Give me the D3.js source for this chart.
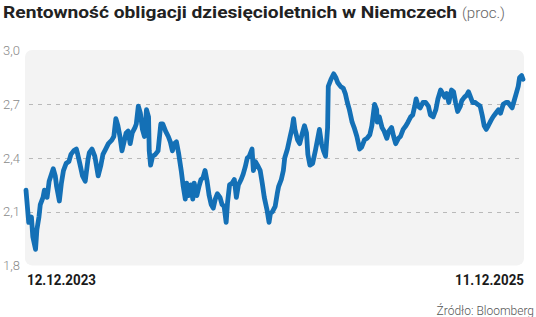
<!DOCTYPE html>
<html><head><meta charset="utf-8">
<script src="https://cdn.jsdelivr.net/npm/d3@7"></script>
<style>
html,body{margin:0;padding:0;background:#fff;}
svg{display:block;font-family:Roboto,"Noto Sans",sans-serif;}
</style></head>
<body>
<script>
// Days since 12.12.2023 and yield (%)
const days = [0,4,8,10,14,16,19,21,25,27,31,34,40,43,45,49,52,55,59,63,66,70,74,76,79,83,87,91,93,97,101,102,106,110,113,117,121,126,129,132,135,138,141,144,147,150,153,156,160,162,165,168,171,174,177,180,181,183,186,190,194,198,201,205,209,212,215,218,221,224,228,231,234,236,239,242,245,247,251,254,257,260,263,266,269,272,275,278,281,285,288,291,294,296,299,303,306,309,312,316,319,322,325,328,332,334,337,340,344,347,350,354,357,359,362,366,369,371,375,378,380,384,388,391,393,395,399,402,406,409,412,414,417,421,425,428,431,434,437,440,443,444,448,452,455,458,462,466,469,472,475,479,482,486,490,493,497,501,505,508,512,515,516,519,523,526,530,533,537,540,543,547,550,554,558,561,565,568,571,573,576,579,583,587,591,594,598,602,605,609,612,615,618,621,625,628,631,634,638,640,644,647,650,652,656,660,663,667,670,673,676,679,683,686,690,694,697,701,705,708,712,714,717,720,723,725,728,730];
const yields = [2.22,2.04,2.07,1.96,1.89,2.00,2.07,2.14,2.18,2.22,2.18,2.27,2.34,2.30,2.24,2.16,2.26,2.33,2.37,2.38,2.42,2.44,2.45,2.42,2.37,2.30,2.27,2.39,2.43,2.45,2.41,2.39,2.30,2.36,2.42,2.45,2.48,2.50,2.52,2.62,2.58,2.52,2.44,2.49,2.54,2.55,2.48,2.54,2.57,2.59,2.69,2.65,2.56,2.52,2.67,2.63,2.44,2.36,2.41,2.42,2.44,2.59,2.59,2.55,2.52,2.49,2.44,2.48,2.49,2.43,2.33,2.24,2.17,2.26,2.19,2.25,2.17,2.26,2.19,2.24,2.28,2.29,2.33,2.27,2.19,2.14,2.12,2.17,2.20,2.18,2.14,2.13,2.04,2.15,2.25,2.26,2.28,2.18,2.25,2.28,2.31,2.35,2.40,2.41,2.45,2.33,2.38,2.36,2.33,2.26,2.18,2.11,2.04,2.09,2.10,2.13,2.20,2.24,2.28,2.33,2.40,2.45,2.52,2.57,2.62,2.56,2.50,2.48,2.54,2.58,2.54,2.42,2.36,2.37,2.44,2.50,2.56,2.48,2.44,2.41,2.57,2.80,2.84,2.87,2.85,2.82,2.80,2.79,2.76,2.71,2.67,2.60,2.57,2.52,2.45,2.46,2.50,2.51,2.53,2.58,2.70,2.67,2.60,2.63,2.57,2.55,2.51,2.55,2.57,2.52,2.48,2.51,2.52,2.56,2.58,2.60,2.63,2.64,2.69,2.73,2.69,2.68,2.71,2.71,2.69,2.64,2.63,2.67,2.73,2.78,2.76,2.74,2.76,2.71,2.78,2.77,2.71,2.66,2.69,2.72,2.74,2.75,2.77,2.75,2.71,2.71,2.70,2.69,2.64,2.58,2.56,2.58,2.61,2.63,2.65,2.67,2.65,2.70,2.71,2.71,2.69,2.68,2.72,2.76,2.80,2.85,2.86,2.84];
const yTicks = [1.8, 2.1, 2.4, 2.7, 3.0];
const gridValues = [2.1, 2.4, 2.7];
const xLabels = ["12.12.2023", "11.12.2025"];
const titleText = "Rentowność obligacji dziesięcioletnich w Niemczech";
const unitText = "(proc.)";
const sourceText = "Źródło: Bloomberg";

const W = 536, H = 317;
const plot = {x0: 25, x1: 524, y0: 50.6, y1: 265.4};

const svg = d3.select("body").append("svg").attr("width", W).attr("height", H);

const x = d3.scaleLinear().domain([0, 730]).range([plot.x0 + 1, plot.x1 - 1]);
const y = d3.scaleLinear().domain([1.8, 3.0]).range([plot.y1, plot.y0]);

// plot background
svg.append("rect")
  .attr("x", plot.x0).attr("y", y(3.0) - 0.6)
  .attr("width", plot.x1 - plot.x0).attr("height", y(1.8) - y(3.0) + 0.6)
  .attr("rx", 7).attr("ry", 7)
  .attr("fill", "#f3f3f3");

// grid
svg.append("g").selectAll("line").data(gridValues).join("line")
  .attr("x1", plot.x0 + 4).attr("x2", plot.x1)
  .attr("y1", d => Math.round(y(d)) + 0.5).attr("y2", d => Math.round(y(d)) + 0.5)
  .attr("stroke", "#b9b9b9").attr("stroke-width", 1)
  .attr("stroke-dasharray", "4,5");

// y axis labels
const yAxis = d3.axisLeft(y).tickValues(yTicks).tickSize(0).tickPadding(0)
  .tickFormat(d => d3.format(".1f")(d).replace(".", ","));
const gy = svg.append("g").attr("transform", "translate(20,0)").call(yAxis);
gy.select(".domain").remove();
gy.selectAll("text").attr("font-size", 13).attr("fill", "#8a8a8a")
  .attr("font-weight", 300).attr("font-family", "Roboto, sans-serif");

// line
const line = d3.line().x((d, i) => x(days[i])).y(d => y(d));
svg.append("path").datum(yields)
  .attr("d", line)
  .attr("fill", "none").attr("stroke", "#1470b6")
  .attr("stroke-width", 4.8).attr("stroke-linejoin", "round").attr("stroke-linecap", "round");

// title: bold part stretched to the reference width
const tMain = svg.append("text").attr("x", 3).attr("y", 18)
  .attr("font-size", 17).attr("font-weight", 700).attr("fill", "#222")
  .attr("textLength", 454).attr("lengthAdjust", "spacingAndGlyphs")
  .text(titleText);
svg.append("text").attr("x", 462).attr("y", 18)
  .attr("font-size", 14).attr("font-weight", 300).attr("fill", "#666")
  .attr("textLength", 43).attr("lengthAdjust", "spacingAndGlyphs")
  .text(unitText);

// x labels
svg.append("text").attr("x", plot.x0 + 2).attr("y", 285).text(xLabels[0])
  .attr("font-size", 14.5).attr("font-weight", 700).attr("fill", "#1a1a1a")
  .attr("textLength", 69).attr("lengthAdjust", "spacingAndGlyphs");
svg.append("text").attr("x", plot.x1).attr("y", 285).attr("text-anchor", "end").text(xLabels[1])
  .attr("font-size", 14.5).attr("font-weight", 700).attr("fill", "#1a1a1a")
  .attr("textLength", 69).attr("lengthAdjust", "spacingAndGlyphs");

// source
svg.append("text").attr("x", 534).attr("y", 315).attr("text-anchor", "end").text(sourceText)
  .attr("font-size", 12).attr("font-weight", 300).attr("fill", "#555");
</script>
</body></html>
